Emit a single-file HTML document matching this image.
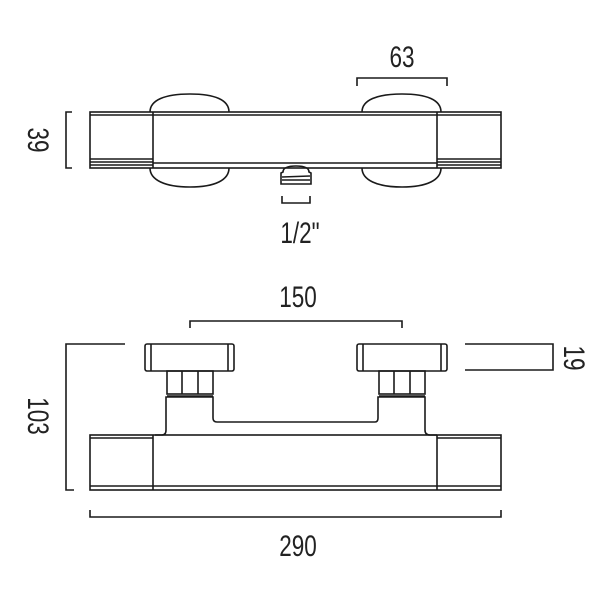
<!DOCTYPE html>
<html><head><meta charset="utf-8"><style>
html,body{margin:0;padding:0;background:#fff;}
svg{display:block}
text{font-family:"Liberation Sans",sans-serif;font-size:30px;fill:#222;}
</style></head><body>
<svg width="600" height="600" viewBox="0 0 600 600" xmlns="http://www.w3.org/2000/svg" fill="none" stroke="#1a1a1a" stroke-width="1.6">
<!-- TOP VIEW -->
<path d="M150,112 C150,100 165,94 190,94 C215,94 229,100 229,112"/>
<path d="M150,168 C150,180 165,187 190,187 C215,187 229,180 229,168"/>
<path d="M362,112 C362,100 377,94 402,94 C427,94 441,100 441,112"/>
<path d="M362,168 C362,180 377,187 402,187 C427,187 441,180 441,168"/>
<rect x="90" y="112" width="411" height="56" fill="#fff"/>
<line x1="90" y1="115" x2="501" y2="115"/>
<line x1="153" y1="112" x2="153" y2="168"/>
<line x1="437" y1="112" x2="437" y2="168"/>
<line x1="153" y1="163" x2="437" y2="163"/>
<line x1="90" y1="159" x2="153" y2="159"/><line x1="90" y1="162" x2="153" y2="162"/><line x1="90" y1="165" x2="153" y2="165"/>
<line x1="437" y1="159" x2="501" y2="159"/><line x1="437" y1="162" x2="501" y2="162"/><line x1="437" y1="165" x2="501" y2="165"/>
<path d="M283,172 Q283,166 296,166 Q309,166 309,172 L311,173 L311,184 L281,184 L281,173 Z"/>
<line x1="282" y1="177" x2="310" y2="176"/><line x1="282" y1="180" x2="310" y2="180"/>
<path d="M357,86 L357,78 L447,78 L447,86"/>
<text transform="translate(402,67) scale(0.75,1)" text-anchor="middle" stroke="none">63</text>
<path d="M72,112 L66,112 L66,168 L72,168"/>
<text transform="translate(28,140) rotate(90) scale(0.75,1)" text-anchor="middle" stroke="none">39</text>
<path d="M282,196 L282,203 L310,203 L310,196"/>
<text transform="translate(300,243) scale(0.75,1)" text-anchor="middle" stroke="none">1/2"</text>

<!-- FRONT VIEW -->
<rect x="145" y="344" width="89" height="27" rx="2"/>
<line x1="151" y1="344" x2="151" y2="371"/><line x1="228" y1="344" x2="228" y2="371"/>
<rect x="357" y="344" width="90" height="27" rx="2"/>
<line x1="363" y1="344" x2="363" y2="371"/><line x1="441" y1="344" x2="441" y2="371"/>
<rect x="167" y="371" width="46" height="23"/>
<line x1="182" y1="371" x2="182" y2="394"/><line x1="198" y1="371" x2="198" y2="394"/>
<rect x="379" y="371" width="46" height="23"/>
<line x1="394" y1="371" x2="394" y2="394"/><line x1="410" y1="371" x2="410" y2="394"/>
<line x1="167" y1="396" x2="213" y2="396"/><line x1="379" y1="396" x2="425" y2="396"/>
<path d="M155,435 L162,435 Q166,435 166,430 L166,397 L213,397 L213,418 Q213,422 217,422 L375,422 Q378,422 378,418 L378,397 L425,397 L425,430 Q425,435 430,435 L437,435"/>
<rect x="90" y="435" width="411" height="55"/>
<line x1="90" y1="438" x2="153" y2="438"/><line x1="437" y1="438" x2="501" y2="438"/>
<line x1="90" y1="486" x2="501" y2="486"/>
<line x1="153" y1="435" x2="153" y2="490"/><line x1="437" y1="435" x2="437" y2="490"/>
<path d="M190,328 L190,321 L402,321 L402,328"/>
<text transform="translate(298,307) scale(0.75,1)" text-anchor="middle" stroke="none">150</text>
<path d="M125,344 L66,344 L66,490 L74,490"/>
<text transform="translate(28,416) rotate(90) scale(0.75,1)" text-anchor="middle" stroke="none">103</text>
<path d="M465,344 L553,344 L553,370 L465,370"/>
<text transform="translate(564,358) rotate(90) scale(0.75,1)" text-anchor="middle" stroke="none">19</text>
<path d="M90,510 L90,517 L501,517 L501,510"/>
<text transform="translate(298,556) scale(0.75,1)" text-anchor="middle" stroke="none">290</text>
</svg>
</body></html>
